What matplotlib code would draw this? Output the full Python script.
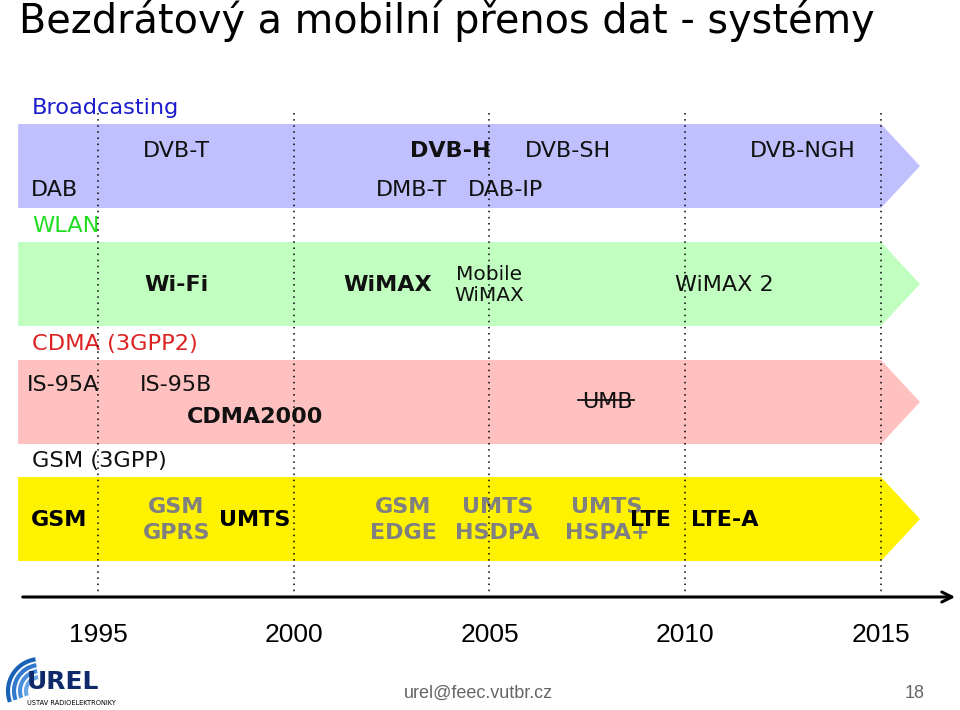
import matplotlib
matplotlib.use("Agg")
import matplotlib.pyplot as plt
from matplotlib.patches import Polygon, Arc

# ---------------- data ----------------
title = "Bezdrátový a mobilní přenos dat - systémy"
years = [1995, 2000, 2005, 2010, 2015]
year_labels = ["1995", "2000", "2005", "2010", "2015"]

categories = ["Broadcasting", "WLAN", "CDMA (3GPP2)", "GSM (3GPP)"]
band_start = 1992.96
band_end = 2015.0

broadcast_labels = ["DVB-T", "DVB-H", "DVB-SH", "DVB-NGH", "DAB", "DMB-T", "DAB-IP"]
broadcast_years = [1997.0, 2004.0, 2007.0, 2013.0, 1993.9, 2003.0, 2005.4]
broadcast_rows = ["top", "top", "top", "top", "bot", "bot", "bot"]
broadcast_bold = [False, True, False, False, False, False, False]

wlan_labels = ["Wi-Fi", "WiMAX", "Mobile\nWiMAX", "WiMAX 2"]
wlan_years = [1997.0, 2002.4, 2005.0, 2011.0]
wlan_bold = [True, True, False, False]

cdma_labels = ["IS-95A", "IS-95B", "CDMA2000", "UMB"]
cdma_years = [1994.1, 1997.0, 1999.0, 2008.0]
cdma_rows = ["top", "top", "bot", "mid"]
cdma_bold = [False, False, True, False]

gsm_labels = ["GSM", "GSM\nGPRS", "UMTS", "GSM\nEDGE", "UMTS\nHSDPA", "UMTS\nHSPA+", "LTE", "LTE-A"]
gsm_years = [1994.0, 1997.0, 1999.0, 2002.8, 2005.2, 2008.0, 2009.1, 2011.0]
gsm_gray = [False, True, False, True, True, True, False, False]

# ---------------- layout ----------------
W, H = 960, 710
px_per_year = 39.15
x0 = 1995 - 98 / px_per_year
x1 = x0 + W / px_per_year

def px(x):
    return x0 + x / px_per_year

fig = plt.figure(figsize=(9.6, 7.1), dpi=100)
ax = fig.add_axes([0, 0, 1, 1])
ax.set_xlim(x0, x1)
ax.set_ylim(H, 0)
ax.axis("off")

SANS = ["DejaVu Sans"]

# title
ax.text(px(19), 21, title, fontsize=28.6, family=["DejaVu Sans"],
        va="center", ha="left", color="black")

band_tops = [124, 242, 360, 477]
band_h = 84
band_colors = ["#c0c0ff", "#c0ffc0", "#ffc0c0", "#fff200"]
cat_colors = ["#1c1ccc", "#22dd22", "#dd2222", "#111111"]
tip = band_end + 39 / px_per_year

for i, (cat, top) in enumerate(zip(categories, band_tops)):
    bot = top + band_h
    mid = top + band_h / 2
    poly = Polygon([[band_start, top], [band_end, top], [tip, mid],
                    [band_end, bot], [band_start, bot]], closed=True,
                   facecolor=band_colors[i], edgecolor="none", zorder=1)
    ax.add_patch(poly)
    ax.text(px(32), top - 16, cat, fontsize=16.2, color=cat_colors[i],
            family=SANS, va="center", ha="left", zorder=3)

# dotted vertical lines
for y in years:
    ax.plot([y, y], [113, 592], color="black", lw=1.1, ls=(0, (1, 3)), zorder=4)

# timeline arrow
ax.annotate("", xy=(px(958), 597), xytext=(px(20), 597),
            arrowprops=dict(arrowstyle="->", lw=2.2, color="black", mutation_scale=18),
            zorder=5)
for y, lab in zip(years, year_labels):
    ax.text(y, 635, lab, fontsize=19, family=["Liberation Sans"], ha="center", va="center")

# Broadcasting
m = band_tops[0] + band_h / 2
for lab, yr, row, b in zip(broadcast_labels, broadcast_years, broadcast_rows, broadcast_bold):
    ax.text(yr, m + (-15 if row == "top" else 24), lab, fontsize=16, family=SANS,
            fontweight="bold" if b else "normal", ha="center", va="center", zorder=3,
            color="#111111")

# WLAN
m = band_tops[1] + band_h / 2
for lab, yr, b in zip(wlan_labels, wlan_years, wlan_bold):
    fs = 16 if "\n" not in lab else 14.5
    ax.text(yr, m + 1, lab, fontsize=fs, family=SANS, fontweight="bold" if b else "normal",
            ha="center", va="center", zorder=3, color="#111111", linespacing=1.1)

# CDMA
t = band_tops[2]
cdma_y = {"top": t + 25, "mid": t + 42, "bot": t + 57}
for lab, yr, row, b in zip(cdma_labels, cdma_years, cdma_rows, cdma_bold):
    ax.text(yr, cdma_y[row], lab, fontsize=16, family=SANS,
            fontweight="bold" if b else "normal", ha="center", va="center",
            zorder=3, color="#111111")
    if lab == "UMB":
        ax.plot([yr - 29 / px_per_year, yr + 27 / px_per_year], [cdma_y[row] - 2] * 2,
                color="#111111", lw=1.3, zorder=4)

# GSM
m = band_tops[3] + band_h / 2
for lab, yr, g in zip(gsm_labels, gsm_years, gsm_gray):
    ax.text(yr, m + 1, lab, fontsize=16, family=SANS, fontweight="bold",
            ha="center", va="center", zorder=3 if g else 4,
            color="#808080" if g else "#000000", linespacing=1.4)

# footer
ax.text(px(478), 693, "urel@feec.vutbr.cz", fontsize=13, family=["Liberation Sans"],
        color="#666666", ha="center", va="center")
ax.text(px(915), 693, "18", fontsize=13, family=["Liberation Sans"],
        color="#666666", ha="center", va="center")

# logo (arcs + text) in its own pixel-space axes (y downwards)
lax = fig.add_axes([0, 0, 140 / W, 65 / H])
lax.set_xlim(0, 140); lax.set_ylim(65, 0); lax.axis("off")
for r, c in zip([14, 20, 26, 32], ["#6aa6e6", "#4a8fdc", "#2f78cc", "#1a62b8"]):
    lax.add_patch(Arc((40, 46), 2 * r, 2 * r, theta1=160, theta2=262, color=c, lw=3.0))
lax.text(27, 37, "UREL", fontsize=18, fontweight="bold", family=["DejaVu Sans"],
         color="#0f2a6b", ha="left", va="center")
lax.text(27, 58, "ÚSTAV RADIOELEKTRONIKY", fontsize=4.8, family=["DejaVu Sans"],
         color="#000000", ha="left", va="center")

fig.savefig("out.png", dpi=100)
